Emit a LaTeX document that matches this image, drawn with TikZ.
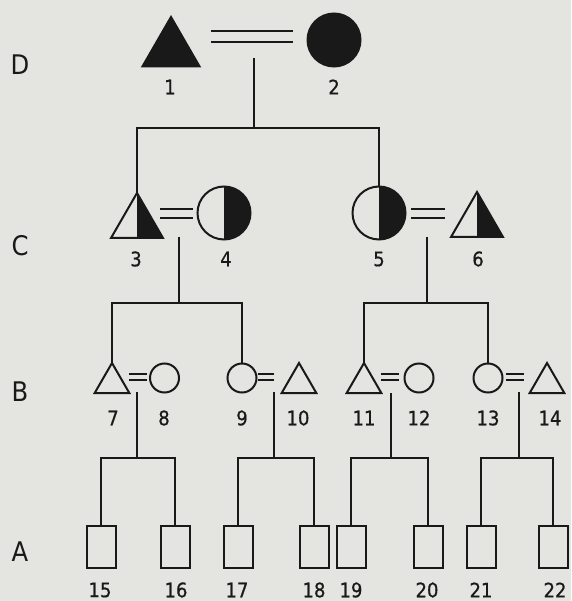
\documentclass[tikz,border=0pt]{standalone}
\usepackage{fontspec}
\setmainfont{DejaVu Sans Condensed}
\newfontfamily\numfont[FakeBold=0.7]{DejaVu Sans Condensed}
\usetikzlibrary{shapes.geometric,calc}
\definecolor{bg}{RGB}{228,228,224}
\definecolor{ink}{RGB}{25,25,25}
\tikzset{
  base/.style={draw=ink, line width=2pt, inner sep=0pt, outer sep=0pt},
  tri/.style={base, regular polygon, regular polygon sides=3, anchor=corner 1},
  bigtri/.style={tri, minimum size=66pt},
  midtri/.style={tri, minimum size=60pt},
  smalltri/.style={tri, minimum size=40pt},
  circ/.style={base, circle},
  bigcirc/.style={circ, minimum size=53pt},
  smallcirc/.style={circ, minimum size=29pt},
  box/.style={base, rectangle, minimum width=29pt, minimum height=42pt, anchor=north},
  full/.style={fill=ink},
  half/.style={path picture={\fill[ink] (path picture bounding box.south) rectangle (path picture bounding box.north east);}},
  line/.style={draw=ink, line width=1.6pt},
  marrD/.style={draw=ink, line width=2pt, double=bg, double distance=9pt},
  marrC/.style={draw=ink, line width=2.2pt, double=bg, double distance=6.8pt},
  marrB/.style={draw=ink, line width=2pt, double=bg, double distance=3.2pt},
  num/.style={font=\numfont\fontsize{20}{22}\selectfont, text=ink, inner sep=0pt},
  gen/.style={font=\fontsize{27}{30}\selectfont, text=ink, inner sep=0pt},
}
\begin{document}
\begin{tikzpicture}[x=1pt,y=-1pt]
\fill[bg] (0,0) rectangle (571,601);
\useasboundingbox (0,0) rectangle (571,601);

% generation letters
\node[gen] (gD) at (20,65) {D};
\node[gen] (gC) at (20,246) {C};
\node[gen] (gB) at (20,392) {B};
\node[gen] (gA) at (20,552) {A};

% Row D
\node[bigtri, full] (n1) at (171,17) {};
\node[bigcirc, full] (n2) at (334,40) {};
\node[num] (l1) at (170,87) {1};
\node[num] (l2) at (334,87) {2};
\coordinate (m12a) at (211,36.5);
\coordinate (m12b) at (293,36.5);
\draw[marrD] (m12a) -- (m12b);
\coordinate (d12) at (254,58);
\coordinate (s12) at (254,128);

% Row C
\node[midtri, half] (n3) at (137,193) {};
\node[bigcirc, half] (n4) at (224,213) {};
\node[bigcirc, half] (n5) at (379,213) {};
\node[midtri, half] (n6) at (477,192) {};
\node[num] (l3) at (136,259) {3};
\node[num] (l4) at (226,259) {4};
\node[num] (l5) at (379,259) {5};
\node[num] (l6) at (478,259) {6};
\coordinate (m34a) at (160,213.5);
\coordinate (m34b) at (193,213.5);
\draw[marrC] (m34a) -- (m34b);
\coordinate (m56a) at (411,213.5);
\coordinate (m56b) at (445,213.5);
\draw[marrC] (m56a) -- (m56b);
\coordinate (d34) at (179,237);
\coordinate (s34) at (179,303);
\coordinate (d56) at (427,237);
\coordinate (s56) at (427,303);

% Row B
\node[smalltri] (n7) at (112,363) {};
\node[smallcirc] (n8) at (164.5,378) {};
\node[smallcirc] (n9) at (242,378) {};
\node[smalltri] (n10) at (299,363) {};
\node[smalltri] (n11) at (364,363) {};
\node[smallcirc] (n12) at (419,378) {};
\node[smallcirc] (n13) at (488,378) {};
\node[smalltri] (n14) at (547,363) {};
\node[num] (l7) at (113,418) {7};
\node[num] (l8) at (164,418) {8};
\node[num] (l9) at (242,418) {9};
\node[num] (l10) at (298,418) {10};
\node[num] (l11) at (364,418) {11};
\node[num] (l12) at (419,418) {12};
\node[num] (l13) at (488,418) {13};
\node[num] (l14) at (550,418) {14};
\coordinate (m78a) at (129,377); \coordinate (m78b) at (147,377);
\coordinate (m910a) at (258,377); \coordinate (m910b) at (274,377);
\coordinate (m1112a) at (381,377); \coordinate (m1112b) at (399,377);
\coordinate (m1314a) at (506,377); \coordinate (m1314b) at (524,377);
\draw[marrB] (m78a) -- (m78b);
\draw[marrB] (m910a) -- (m910b);
\draw[marrB] (m1112a) -- (m1112b);
\draw[marrB] (m1314a) -- (m1314b);
\coordinate (d78) at (137,392); \coordinate (s78) at (137,458);
\coordinate (d910) at (274,392); \coordinate (s910) at (274,458);
\coordinate (d1112) at (391,393); \coordinate (s1112) at (391,458);
\coordinate (d1314) at (519,392); \coordinate (s1314) at (519,458);

% Row A
\node[box] (n15) at (101,526) {};
\node[box] (n16) at (175,526) {};
\node[box] (n17) at (238,526) {};
\node[box] (n18) at (314,526) {};
\node[box] (n19) at (351,526) {};
\node[box] (n20) at (428,526) {};
\node[box] (n21) at (481,526) {};
\node[box] (n22) at (553,526) {};
\node[num] (l15) at (100,590) {15};
\node[num] (l16) at (176,590) {16};
\node[num] (l17) at (237,590) {17};
\node[num] (l18) at (314,590) {18};
\node[num] (l19) at (351,590) {19};
\node[num] (l20) at (427,590) {20};
\node[num] (l21) at (481,590) {21};
\node[num] (l22) at (555,590) {22};

% descent lines
\draw[line] (d12) -- (s12);
\draw[line] (n3.corner 1) |- (s12) -| (n5.north);
\draw[line] (d34) -- (s34);
\draw[line] (n7.corner 1) |- (s34) -| (n9.north);
\draw[line] (d56) -- (s56);
\draw[line] (n11.corner 1) |- (s56) -| (n13.north);
\draw[line] (d78) -- (s78);
\draw[line] (n15.north) |- (s78) -| (n16.north);
\draw[line] (d910) -- (s910);
\draw[line] (n17.north) |- (s910) -| (n18.north);
\draw[line] (d1112) -- (s1112);
\draw[line] (n19.north) |- (s1112) -| (n20.north);
\draw[line] (d1314) -- (s1314);
\draw[line] (n21.north) |- (s1314) -| (n22.north);
\end{tikzpicture}
\end{document}
